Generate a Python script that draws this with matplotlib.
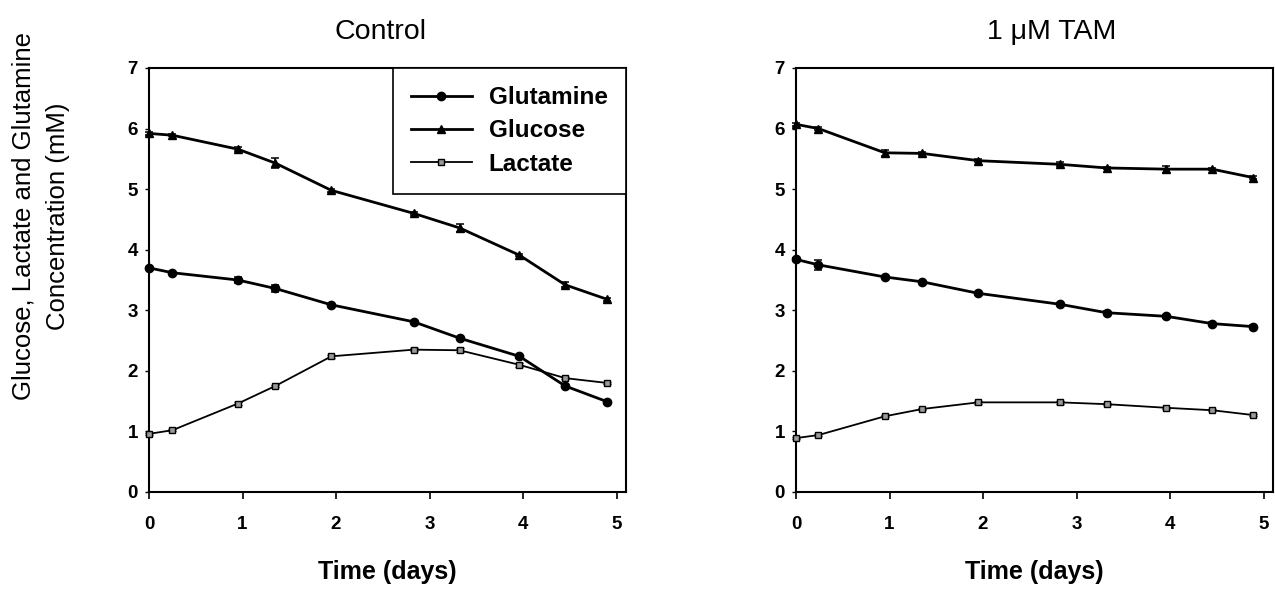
import matplotlib
matplotlib.use("Agg")
import matplotlib.pyplot as plt
from matplotlib.lines import Line2D

plt.rcParams['font.family'] = ['Liberation Sans', 'DejaVu Sans']

# ---- data ----
time_ctrl = [0, 0.25, 0.95, 1.35, 1.95, 2.83, 3.32, 3.96, 4.45, 4.90]
ctrl_glucose = [5.92, 5.89, 5.66, 5.43, 4.98, 4.60, 4.36, 3.91, 3.42, 3.18]
ctrl_glucose_err = [0.02, 0.02, 0.03, 0.08, 0.02, 0.02, 0.06, 0.02, 0.04, 0.02]
ctrl_glutamine = [3.70, 3.62, 3.50, 3.36, 3.09, 2.81, 2.54, 2.24, 1.75, 1.49]
ctrl_glutamine_err = [0.02, 0.02, 0.05, 0.05, 0.02, 0.02, 0.02, 0.03, 0.02, 0.02]
ctrl_lactate = [0.96, 1.02, 1.46, 1.75, 2.24, 2.35, 2.34, 2.10, 1.88, 1.80]
ctrl_lactate_err = [0.02, 0.02, 0.02, 0.02, 0.03, 0.03, 0.03, 0.03, 0.02, 0.02]

time_tam = [0, 0.24, 0.95, 1.35, 1.95, 2.82, 3.32, 3.96, 4.45, 4.89]
tam_glucose = [6.07, 6.00, 5.60, 5.59, 5.47, 5.41, 5.35, 5.33, 5.33, 5.19]
tam_glucose_err = [0.03, 0.03, 0.05, 0.03, 0.02, 0.03, 0.02, 0.06, 0.02, 0.02]
tam_glutamine = [3.84, 3.75, 3.55, 3.47, 3.28, 3.10, 2.96, 2.90, 2.78, 2.73]
tam_glutamine_err = [0.03, 0.08, 0.02, 0.02, 0.03, 0.02, 0.02, 0.03, 0.03, 0.02]
tam_lactate = [0.89, 0.94, 1.25, 1.37, 1.48, 1.48, 1.45, 1.39, 1.35, 1.27]
tam_lactate_err = [0.02, 0.02, 0.02, 0.02, 0.02, 0.02, 0.02, 0.02, 0.02, 0.02]

series_names = ['Glutamine', 'Glucose', 'Lactate']
xticks = [0, 1, 2, 3, 4, 5]
yticks = [0, 1, 2, 3, 4, 5, 6, 7]

fig = plt.figure(figsize=(12.75, 5.92), dpi=100)
W, H = 1275, 592
ax1 = fig.add_axes([149 / W, (H - 492) / H, 477 / W, 424 / H])
ax2 = fig.add_axes([796 / W, (H - 492) / H, 477 / W, 424 / H])

styles = [
    dict(color='black', lw=2.0, marker='o', ms=6, mfc='black', mec='black'),
    dict(color='black', lw=2.0, marker='^', ms=6, mfc='black', mec='black'),
    dict(color='black', lw=1.3, marker='s', ms=5, mfc='#9a9a9a', mec='black', mew=1.0),
]


def draw(ax, t, data):
    for (vals, errs), st in zip(data, styles):
        ax.errorbar(t, vals, yerr=errs, capsize=3, elinewidth=1.1, capthick=1.1,
                    clip_on=False, zorder=3, **st)
    ax.set_xlim(0, 5.1)
    ax.set_ylim(0, 7)
    ax.set_xticks(xticks)
    ax.set_yticks(yticks)
    for lab in ax.get_xticklabels() + ax.get_yticklabels():
        lab.set_fontweight('bold')
    ax.tick_params(axis='x', direction='out', length=5, width=1.2, pad=12, labelsize=13.5)
    ax.tick_params(axis='y', direction='out', length=3, width=1.0, pad=5, labelsize=13.5)
    for s in ax.spines.values():
        s.set_linewidth(1.5)
        s.set_color('black')
    ax.set_xlabel('Time (days)', fontsize=18, fontweight='bold', labelpad=20)


draw(ax1, time_ctrl, [(ctrl_glutamine, ctrl_glutamine_err), (ctrl_glucose, ctrl_glucose_err),
                      (ctrl_lactate, ctrl_lactate_err)])
draw(ax2, time_tam, [(tam_glutamine, tam_glutamine_err), (tam_glucose, tam_glucose_err),
                     (tam_lactate, tam_lactate_err)])

ax1.set_title('Control', fontsize=20.5, pad=21, x=0.486)
ax2.set_title('1 μM TAM', fontsize=20.5, pad=21, x=0.536)

handles = [Line2D([], [], **st) for st in styles]
leg = ax1.legend(handles=handles, labels=series_names,
                 loc='upper right', bbox_to_anchor=(1.0, 1.0), borderaxespad=0,
                 frameon=True, fancybox=False, edgecolor='black', framealpha=1,
                 prop={'weight': 'bold', 'size': 17.5}, handlelength=2.5,
                 labelspacing=0.42, borderpad=0.75, handletextpad=0.7)
leg.get_frame().set_linewidth(1.2)

fig.text(41 / W, (H - 216) / H, 'Glucose, Lactate and Glutamine\nConcentration (mM)',
         rotation=90, ha='center', va='center', fontsize=18.5, multialignment='center',
         linespacing=1.55)

fig.savefig('out.png', dpi=100)
